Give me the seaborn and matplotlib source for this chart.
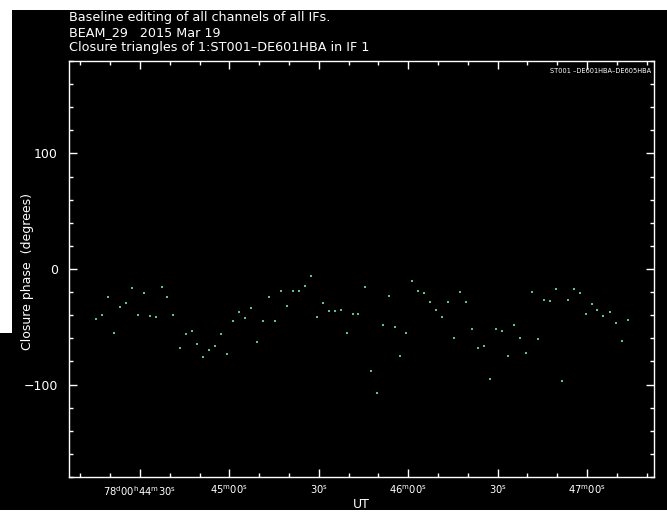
import matplotlib
matplotlib.use("Agg")
import matplotlib.pyplot as plt
from matplotlib.patches import Rectangle
from matplotlib.ticker import MultipleLocator, FixedLocator
import seaborn as sns
import pandas as pd

# ---- data (UT seconds after 78d00h44m00s, closure phase in degrees) ----
time_s = [15.2, 17.2, 19.3, 21.3, 23.3, 25.3, 27.3, 29.3, 31.3, 33.4,
          35.4, 37.3, 39.2, 41.2, 43.4, 45.4, 47.4, 49.2, 51.2, 53.3,
          55.3, 57.3, 59.3, 61.2, 63.3, 65.3, 67.3, 69.4, 71.4, 73.3,
          75.3, 77.3, 79.3, 81.3, 83.4, 85.4, 87.4, 89.4, 91.4, 93.4,
          95.4, 97.4, 99.4, 101.4, 103.3, 105.5, 107.4, 109.4, 111.4, 113.5,
          115.5, 117.3, 119.4, 121.4, 123.4, 125.4, 127.4, 129.4, 131.4, 133.5,
          135.4, 137.4, 139.4, 141.4, 143.4, 145.4, 147.4, 149.5, 151.5, 153.5,
          155.5, 157.5, 159.5, 161.4, 163.5, 165.5, 167.6, 169.5, 171.5, 173.5,
          175.5, 177.6, 179.6, 181.6, 183.4, 185.4, 187.6, 189.6, 191.6, 193.7]
phase_deg = [-43.4, -39.7, -23.9, -55.2, -32.8, -29.3, -16.1, -39.7, -20.7, -40.8,
             -41.4, -15.8, -23.9, -39.7, -68.7, -56.3, -53.4, -65.3, -75.9, -70.1,
             -66.4, -56.6, -73.3, -45.4, -37.3, -42.8, -33.4, -63.5, -44.6, -24.4,
             -45.4, -19.2, -31.9, -19.0, -19.0, -14.4, -6.3, -41.4, -29.3, -36.2,
             -36.5, -35.3, -55.2, -39.1, -39.1, -15.8, -88.2, -107.2, -48.5, -23.0,
             -50.0, -75.0, -55.2, -10.3, -19.0, -20.9, -28.2, -35.3, -41.4, -28.7,
             -60.1, -19.6, -28.7, -52.3, -68.7, -66.6, -95.4, -51.7, -53.7, -75.3,
             -48.5, -59.5, -73.0, -19.8, -60.6, -26.7, -27.6, -17.0, -96.8, -26.7,
             -17.2, -20.9, -39.1, -30.4, -35.9, -40.3, -37.3, -46.3, -62.1, -44.2]

x_tick_vals = [30, 60, 90, 120, 150, 180]
x_tick_labels = [r"78$^{\rm d}$00$^{\rm h}$44$^{\rm m}$30$^{\rm s}$",
                 r"45$^{\rm m}$00$^{\rm s}$", r"30$^{\rm s}$",
                 r"46$^{\rm m}$00$^{\rm s}$", r"30$^{\rm s}$",
                 r"47$^{\rm m}$00$^{\rm s}$"]
y_tick_vals = [-100, 0, 100]
y_tick_labels = ["\u2212100", "0", "100"]

title_lines = ["Baseline editing of all channels of all IFs.",
               "BEAM_29   2015 Mar 19",
               "Closure triangles of 1:ST001\u2013DE601HBA in IF 1"]
triangle_label = "ST001 \u2013DE601HBA\u2013DE605HBA"

df = pd.DataFrame({"t": time_s, "phase": phase_deg})

sns.set_theme(style="ticks")
plt.rcParams["font.family"] = ["DejaVu Sans"]

W, H = 667, 517
fig = plt.figure(figsize=(W / 100, H / 100), dpi=100)
fig.patch.set_facecolor("white")
# black plotting surface
fig.patches.append(Rectangle((12 / W, 7 / H), 1 - 12 / W, 1 - 17 / H,
                             transform=fig.transFigure, facecolor="black",
                             edgecolor="none", zorder=-10))
fig.patches.append(Rectangle((0, 7 / H), 12 / W, (510 - 333) / H,
                             transform=fig.transFigure, facecolor="black",
                             edgecolor="none", zorder=-10))

ax = fig.add_axes([69 / W, 1 - 477 / H, (654 - 69) / W, (477 - 61) / H])
ax.set_facecolor("black")

sns.scatterplot(data=df, x="t", y="phase", ax=ax, color="#4cc98c",
                s=3.5, linewidth=0, marker="s", legend=False)

ax.set_xlim(6.2, 202.5)
ax.set_ylim(-180, 180)

ax.xaxis.set_major_locator(FixedLocator(x_tick_vals))
ax.set_xticklabels(x_tick_labels)
ax.xaxis.set_minor_locator(MultipleLocator(10))
ax.yaxis.set_major_locator(FixedLocator(y_tick_vals))
ax.set_yticklabels(y_tick_labels)
ax.yaxis.set_minor_locator(MultipleLocator(20))

for s in ax.spines.values():
    s.set_color("white")
    s.set_linewidth(1.0)
    s.set_visible(True)

ax.tick_params(axis="both", which="both", direction="in", colors="white",
               top=True, right=True, labelcolor="white")
ax.tick_params(which="major", length=6, width=1)
ax.tick_params(which="minor", length=3, width=1)
ax.tick_params(axis="x", pad=5, labelsize=7.2)
ax.tick_params(axis="y", pad=8, labelsize=9)

ax.set_xlabel("")
fig.text(361 / W, 1 - 504 / H, "UT", color="white", fontsize=9,
         ha="center", va="center")
ax.set_ylabel("Closure phase  (degrees)", color="white", fontsize=9)
ax.yaxis.set_label_coords(-(69 - 34) / (654 - 69), (477 - 272) / (477 - 61))

for i, line in enumerate(title_lines):
    fig.text(69 / W, 1 - (18 + 15 * i) / H, line, color="white",
             fontsize=9.2, va="center", ha="left")

ax.text(0.995, 0.975, triangle_label, transform=ax.transAxes, color="white",
        fontsize=4.8, ha="right", va="center")

fig.savefig("out.png", dpi=100, facecolor=fig.get_facecolor())
